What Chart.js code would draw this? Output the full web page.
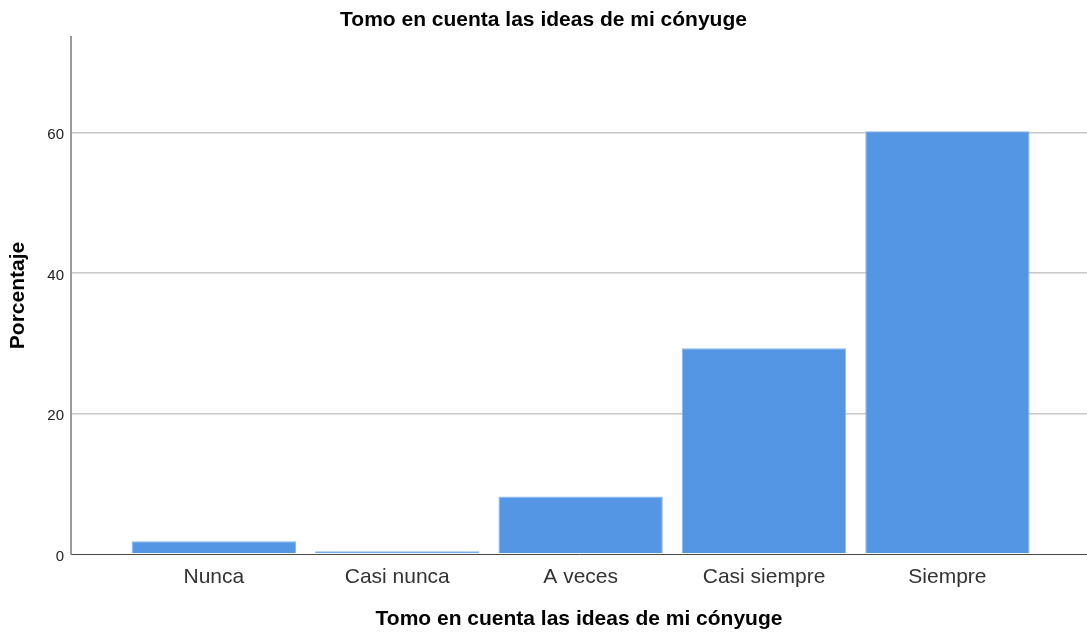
<!DOCTYPE html>
<html>
<head>
<meta charset="utf-8">
<script src="https://cdn.jsdelivr.net/npm/chart.js@4/dist/chart.umd.min.js"></script>
<style>
  html, body { margin: 0; padding: 0; background: #ffffff; }
  canvas { display: block; }
</style>
</head>
<body>
<canvas id="c" width="1087" height="632"></canvas>
<script>
const categories = ["Nunca", "Casi nunca", "A veces", "Casi siempre", "Siempre"];
const percentages = [1.8, 0.4, 8.2, 29.3, 60.2];
const yTicks = [0, 20, 40, 60];
const chartTitle = "Tomo en cuenta las ideas de mi cónyuge";
const xAxisTitle = "Tomo en cuenta las ideas de mi cónyuge";
const yAxisTitle = "Porcentaje";

const FONT = "'Liberation Sans', Arial, Helvetica, sans-serif";

const points = categories.map((c, i) => ({ x: i, y: percentages[i] }));

new Chart(document.getElementById('c'), {
  type: 'bar',
  data: {
    datasets: [{
      data: points,
      backgroundColor: '#5596E4',
      borderColor: '#8BB7EE',
      borderWidth: 1,
      borderSkipped: 'bottom',
      barPercentage: 0.896,
      categoryPercentage: 1.0
    }]
  },
  options: {
    responsive: false,
    animation: false,
    layout: { padding: 0 },
    plugins: {
      legend: { display: false },
      tooltip: { enabled: false },
      title: {
        display: true,
        text: chartTitle,
        color: '#000000',
        font: { family: FONT, size: 21, weight: 'bold' },
        padding: { top: 8, bottom: 3.8 }
      }
    },
    scales: {
      x: {
        type: 'linear',
        offset: false,
        min: -0.779,
        max: 4.761,
        afterFit: (s) => { s.height = 78; },
        afterBuildTicks: (s) => {
          s.ticks = categories.map((c, i) => ({ value: i }));
        },
        ticks: {
          stepSize: 1,
          includeBounds: false,
          autoSkip: false,
          maxRotation: 0,
          padding: 11,
          color: '#333333',
          font: { family: FONT, size: 21 },
          callback: (v) => categories[v] !== undefined ? categories[v] : ''
        },
        grid: { display: false, drawTicks: false, offset: false },
        border: { display: true, color: '#4a4a4a', width: 1 },
        title: {
          display: true,
          text: xAxisTitle,
          color: '#000000',
          font: { family: FONT, size: 21, weight: 'bold' },
          padding: { top: 0, bottom: 0 }
        }
      },
      y: {
        type: 'linear',
        min: 0,
        max: 73.6,
        afterFit: (s) => { s.width = 71; },
        afterBuildTicks: (s) => {
          s.ticks = yTicks.map(v => ({ value: v }));
        },
        ticks: {
          stepSize: 20,
          includeBounds: false,
          padding: 7,
          labelOffset: 2.5,
          color: '#222222',
          font: { family: FONT, size: 15 }
        },
        grid: {
          drawTicks: false,
          color: (ctx) => (ctx.tick && ctx.tick.value === 0) ? 'rgba(0,0,0,0)' : '#c8c8c8',
          lineWidth: 1.5
        },
        border: { display: true, color: '#9a9a9a', width: 2 },
        title: {
          display: true,
          text: yAxisTitle,
          color: '#000000',
          font: { family: FONT, size: 21, weight: 'bold' },
          padding: { top: 6, bottom: 4 }
        }
      }
    }
  }
});
</script>
</body>
</html>
